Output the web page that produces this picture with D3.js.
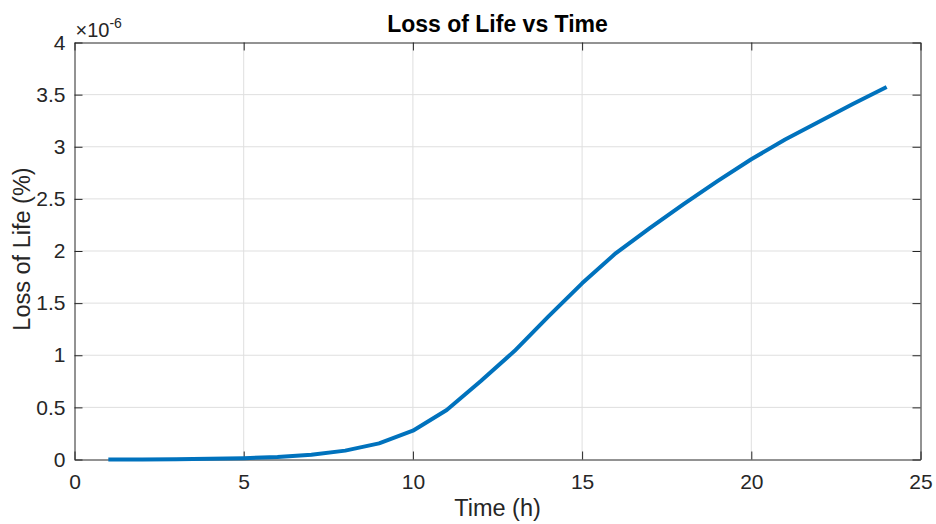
<!DOCTYPE html>
<html>
<head>
<meta charset="utf-8">
<script src="https://cdn.jsdelivr.net/npm/d3@7"></script>
<style>
  html, body { margin: 0; padding: 0; background: #fff; }
  svg { display: block; font-family: "Liberation Sans", Arial, sans-serif; }
</style>
</head>
<body>
<div id="chart"></div>
<script>
// ── Data (loss of life, units of 1e-6 %) ────────────────────
const hours = [1, 2, 3, 4, 5, 6, 7, 8, 9, 10, 11, 12,
               13, 14, 15, 16, 17, 18, 19, 20, 21, 22, 23, 24];
const lossOfLife = [0, 0.001, 0.003, 0.007, 0.013, 0.024, 0.045, 0.085,
                    0.155, 0.276, 0.475, 0.75, 1.04, 1.37, 1.69, 1.98,
                    2.22, 2.45, 2.67, 2.88, 3.07, 3.24, 3.41, 3.573];
const xTicks = [0, 5, 10, 15, 20, 25];
const yTicks = [0, 0.5, 1, 1.5, 2, 2.5, 3, 3.5, 4];

const W = 936, H = 524;
const margin = { top: 42.5, right: 15.5, bottom: 64.5, left: 74.5 };
const iw = W - margin.left - margin.right;
const ih = H - margin.top - margin.bottom;
const AXIS = "#262626";

const svg = d3.select("#chart").append("svg")
  .attr("width", W).attr("height", H);

const x = d3.scaleLinear().domain([0, 25]).range([0, iw]);
const y = d3.scaleLinear().domain([0, 4]).range([ih, 0]);

const g = svg.append("g")
  .attr("transform", `translate(${margin.left},${margin.top})`);

// ── Grid lines ──────────────────────────────────────────────
g.append("g").selectAll("line")
  .data(xTicks.slice(1, -1)).enter().append("line")
  .attr("x1", d => x(d)).attr("x2", d => x(d))
  .attr("y1", 0).attr("y2", ih)
  .attr("stroke", "#dfdfdf").attr("stroke-width", 1);

g.append("g").selectAll("line")
  .data(yTicks.slice(1, -1)).enter().append("line")
  .attr("x1", 0).attr("x2", iw)
  .attr("y1", d => y(d)).attr("y2", d => y(d))
  .attr("stroke", "#dfdfdf").attr("stroke-width", 1);

// ── Axes (ticks inside, box on) ─────────────────────────────
const fmt = d => d3.format("~g")(d);
const TL = 8;

const xAxis = g.append("g").attr("transform", `translate(0,${ih})`)
  .call(d3.axisBottom(x).tickValues(xTicks).tickSizeInner(-TL).tickSizeOuter(0).tickPadding(15).tickFormat(fmt));
const xTop = g.append("g")
  .call(d3.axisTop(x).tickValues(xTicks).tickSizeInner(-TL).tickSizeOuter(0).tickFormat(""));
const yAxis = g.append("g")
  .call(d3.axisLeft(y).tickValues(yTicks).tickSizeInner(-TL).tickSizeOuter(0).tickPadding(9).tickFormat(fmt));
const yRight = g.append("g").attr("transform", `translate(${iw},0)`)
  .call(d3.axisRight(y).tickValues(yTicks).tickSizeInner(-TL).tickSizeOuter(0).tickFormat(""));

[xAxis, xTop, yAxis, yRight].forEach(a => {
  a.selectAll("path, line").attr("stroke", AXIS).attr("stroke-width", 1);
  a.selectAll("text").attr("fill", AXIS).attr("font-size", 21)
    .attr("font-family", "'Liberation Sans', Arial, sans-serif");
});

// ── Data line ───────────────────────────────────────────────
const line = d3.line()
  .x((d, i) => x(hours[i]))
  .y(d => y(d));

g.append("path")
  .datum(lossOfLife)
  .attr("d", line)
  .attr("fill", "none")
  .attr("stroke", "#0072BD")
  .attr("stroke-width", 4)
  .attr("stroke-linejoin", "round");

// ── Exponent label ──────────────────────────────────────────
const expo = svg.append("text")
  .attr("x", margin.left + 1).attr("y", 36.5)
  .attr("fill", AXIS).attr("font-size", 20);
expo.append("tspan").text("\u00d710");
expo.append("tspan").text("-6").attr("font-size", 14).attr("dy", -9);

// ── Title and axis labels ───────────────────────────────────
svg.append("text")
  .attr("x", margin.left + iw / 2).attr("y", 31.5)
  .attr("text-anchor", "middle")
  .attr("font-weight", "bold").attr("font-size", 23)
  .attr("fill", "#000")
  .text("Loss of Life vs Time");

svg.append("text")
  .attr("x", margin.left + iw / 2).attr("y", 516)
  .attr("text-anchor", "middle")
  .attr("font-size", 23.5).attr("fill", AXIS)
  .text("Time (h)");

svg.append("text")
  .attr("transform", `translate(30,${margin.top + ih / 2 - 2}) rotate(-90)`)
  .attr("text-anchor", "middle")
  .attr("font-size", 23.5).attr("fill", AXIS)
  .text("Loss of Life (%)");
</script>
</body>
</html>
